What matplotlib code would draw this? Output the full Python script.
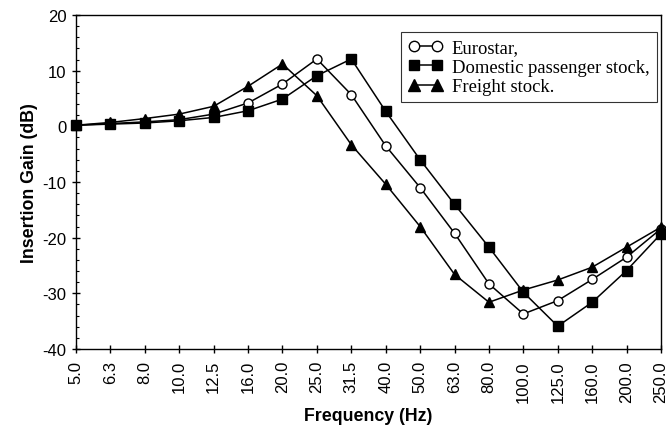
import numpy as np
import matplotlib.pyplot as plt
from matplotlib.ticker import MultipleLocator

# Third-octave band centre frequencies (Hz)
freqs = ['5.0', '6.3', '8.0', '10.0', '12.5', '16.0', '20.0', '25.0', '31.5',
         '40.0', '50.0', '63.0', '80.0', '100.0', '125.0', '160.0', '200.0', '250.0']

# Insertion gain (dB)
eurostar = [0.2, 0.5, 0.8, 1.2, 2.2, 4.2, 7.6, 12.1, 5.7,
            -3.5, -11.0, -19.2, -28.3, -33.7, -31.3, -27.5, -23.5, -18.4]
domestic = [0.2, 0.4, 0.6, 1.0, 1.6, 2.8, 4.9, 9.1, 12.1,
            2.7, -6.0, -14.0, -21.7, -29.8, -35.9, -31.6, -25.9, -19.3]
freight = [0.2, 0.7, 1.4, 2.2, 3.6, 7.2, 11.2, 5.5, -3.3,
           -10.4, -18.0, -26.6, -31.6, -29.4, -27.6, -25.3, -21.7, -18.1]

plt.rcParams['font.family'] = ['Liberation Sans', 'DejaVu Sans']
plt.rcParams['axes.unicode_minus'] = False

fig = plt.figure(figsize=(6.66, 4.27), dpi=100)
ax = fig.add_axes([0.1141, 0.1803, 0.8784, 0.7822])

x = np.arange(len(freqs))
style = dict(color='black', linewidth=1.1, clip_on=False, zorder=3)
ax.plot(x, eurostar, marker='o', markersize=6.5, markerfacecolor='white',
        markeredgecolor='black', markeredgewidth=1.0, label='Eurostar,', **style)
ax.plot(x, domestic, marker='s', markersize=6.8, markerfacecolor='black',
        markeredgecolor='black', label='Domestic passenger stock,', **style)
ax.plot(x, freight, marker='^', markersize=7.5, markerfacecolor='black',
        markeredgecolor='black', label='Freight stock.', **style)

ax.set_xlim(0, len(freqs) - 1)
ax.set_ylim(-40, 20)
ax.set_xticks(x)
ax.set_xticklabels(freqs, rotation=90)
ax.yaxis.set_major_locator(MultipleLocator(10))
ax.yaxis.set_minor_locator(MultipleLocator(2))
ax.tick_params(axis='both', which='major', direction='inout', length=6, width=1.0,
               labelsize=12, pad=4)
ax.tick_params(axis='x', which='major', pad=5)
ax.tick_params(axis='y', which='minor', direction='in', length=2.5, width=0.8)
for sp in ax.spines.values():
    sp.set_linewidth(1.0)

ax.set_xlabel('Frequency (Hz)', fontsize=12.8, fontweight='bold', labelpad=4)
ax.set_ylabel('Insertion Gain (dB)', fontsize=12.8, fontweight='bold', labelpad=3)

leg = ax.legend(loc='upper right', bbox_to_anchor=(0.993, 0.949), numpoints=2,
                prop={'family': 'Liberation Serif', 'size': 13.4},
                frameon=True, fancybox=False, edgecolor='black', markerscale=1.15,
                handlelength=1.85, handletextpad=0.5, borderpad=0.4,
                labelspacing=0.12, borderaxespad=0)
leg.get_frame().set_linewidth(0.8)

fig.savefig('out.png', dpi=100)
